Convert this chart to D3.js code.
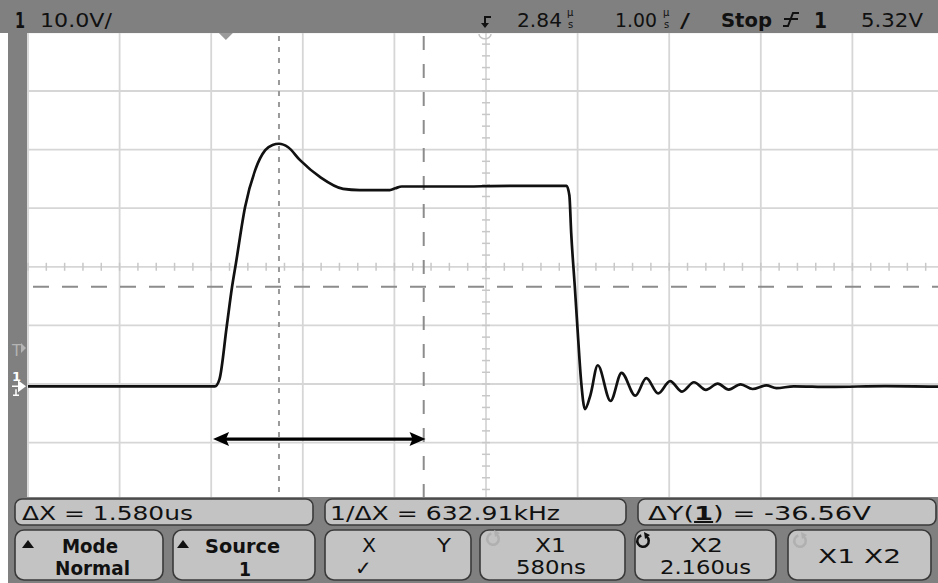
<!DOCTYPE html>
<html>
<head>
<meta charset="utf-8">
<script src="https://cdn.jsdelivr.net/npm/d3@7"></script>
<style>
  html, body { margin: 0; padding: 0; background: #fff; }
  svg { display: block; font-family: "DejaVu Sans", sans-serif; }
  .grid { stroke: #d6d6d6; stroke-width: 1.8; }
  .tick { stroke: #c8c8c8; stroke-width: 1.5; }
  .wave { fill: none; stroke: #111; stroke-width: 2.7; stroke-linejoin: round; }
</style>
</head>
<body>
<svg id="chart" width="938" height="583"></svg>
<script>
// scope settings
var timeCenter = 2.84;     // us, horizontal delay
var timePerDiv = 1.0;      // us/div
var voltsPerDiv = 10;      // V/div
var voltCenter = 20.4;     // V at screen centre (ground sits two divs lower)
var cursorX1 = 0.58;       // us
var cursorX2 = 2.16;       // us
var levelV = 17.0;         // dashed horizontal marker
var arrowFrom = -0.14, arrowTo = 2.18, arrowV = -9.0;

// captured waveform, channel 1
var waveT = [-2.16, -0.12, -0.07, 0.01, 0.067, 0.11, 0.21, 0.32, 0.43, 0.51, 0.58, 0.68, 0.81, 1.03, 1.28,
  1.46, 1.79, 1.85, 1.92, 2.5, 3.1, 3.72, 3.75, 3.77, 3.81, 3.84, 3.88, 3.92, 3.98, 4.06, 4.20, 4.32,
  4.47, 4.59, 4.72, 4.85, 4.98, 5.11, 5.24, 5.37, 5.49, 5.62, 5.75, 5.90, 6.01, 6.2, 6.6, 7.2, 7.84];
var waveV = [0, 0, 1.2, 10.3, 16.9, 21.0, 30.6, 36.9, 40.3, 41.2, 41.4, 40.8, 38.6, 35.7, 33.7,
  33.5, 33.5, 33.8, 34.1, 34.1, 34.2, 34.2, 32.6, 26.2, 16.9, 9.6, 0.6, -3.9, -1.5, 3.6, -2.5, 2.3,
  -1.6, 1.4, -1.2, 0.9, -0.9, 0.7, -0.6, 0.45, -0.55, 0.35, -0.45, 0.15, -0.3, 0, -0.1, 0.05, -0.05];

// text on the screen
var statusTexts = ["ΔX = 1.580us", "1/ΔX = 632.91kHz"];
var softTop = ["Mode", "Source", "X", "X1", "X2", "X1 X2"];
var softBottom = ["Normal", "1", "✓", "580ns", "2.160us", ""];

var svg = d3.select("#chart");
var gridLeft = 28, gridTop = 32.4, divW = 91.6, divH = 58.6;

var x = d3.scaleLinear()
  .domain([timeCenter - 5 * timePerDiv, timeCenter + 5 * timePerDiv])
  .range([gridLeft, gridLeft + 10 * divW]);
var y = d3.scaleLinear()
  .domain([voltCenter - 4 * voltsPerDiv, voltCenter + 4 * voltsPerDiv])
  .range([gridTop + 8 * divH, gridTop]);

svg.append("rect").attr("width", 938).attr("height", 583).attr("fill", "#fff");

svg.append("defs").append("clipPath").attr("id", "screen")
  .append("rect").attr("x", 27).attr("y", 33).attr("width", 911).attr("height", 464);

var g = svg.append("g").attr("clip-path", "url(#screen)");

// graticule
var xDivs = d3.range(0, 11).map(function (i) { return x.domain()[0] + i * timePerDiv; });
var yDivs = d3.range(0, 9).map(function (i) { return y.domain()[0] + i * voltsPerDiv; });
g.selectAll(".vgrid").data(xDivs).enter().append("line")
  .attr("class", "grid")
  .attr("x1", function (d) { return x(d); }).attr("x2", function (d) { return x(d); })
  .attr("y1", 33).attr("y2", 497);
g.selectAll(".hgrid").data(yDivs).enter().append("line")
  .attr("class", "grid")
  .attr("x1", 27).attr("x2", 938)
  .attr("y1", function (d) { return y(d); }).attr("y2", function (d) { return y(d); });

// minor ticks on the centre lines
var xMinor = d3.range(0, 51).map(function (i) { return x.domain()[0] + i * timePerDiv / 5; });
var yMinor = d3.range(0, 41).map(function (i) { return y.domain()[0] + i * voltsPerDiv / 5; });
g.selectAll(".xt").data(xMinor).enter().append("line")
  .attr("class", "tick")
  .attr("x1", function (d) { return x(d); }).attr("x2", function (d) { return x(d); })
  .attr("y1", y(voltCenter) - 4).attr("y2", y(voltCenter) + 4);
g.selectAll(".yt").data(yMinor).enter().append("line")
  .attr("class", "tick")
  .attr("y1", function (d) { return y(d); }).attr("y2", function (d) { return y(d); })
  .attr("x1", x(timeCenter) - 4).attr("x2", x(timeCenter) + 4);

// cursors
g.append("line")
  .attr("x1", x(cursorX1)).attr("x2", x(cursorX1)).attr("y1", 36).attr("y2", 497)
  .attr("stroke", "#9a9a9a").attr("stroke-width", 2).attr("stroke-dasharray", "5,6");
g.append("line")
  .attr("x1", x(cursorX2)).attr("x2", x(cursorX2)).attr("y1", 36).attr("y2", 497)
  .attr("stroke", "#8c8c8c").attr("stroke-width", 2).attr("stroke-dasharray", "14,14");
g.append("line")
  .attr("x1", 33).attr("x2", 938).attr("y1", y(levelV)).attr("y2", y(levelV))
  .attr("stroke", "#8c8c8c").attr("stroke-width", 2).attr("stroke-dasharray", "16,13");

// waveform
var wave = waveT.map(function (t, i) { return { t: t, v: waveV[i] }; });
var line = d3.line()
  .x(function (d) { return x(d.t); })
  .y(function (d) { return y(d.v); })
  .curve(d3.curveMonotoneX);
g.append("path").datum(wave).attr("class", "wave").attr("d", line);

// double arrow between the edge and cursor 2
var ay = y(arrowV), ax1 = x(arrowFrom), ax2 = x(arrowTo);
g.append("line").attr("x1", ax1 + 10).attr("x2", ax2 - 10).attr("y1", ay).attr("y2", ay)
  .attr("stroke", "#000").attr("stroke-width", 3.2);
g.append("path").attr("fill", "#000")
  .attr("d", "M" + ax1 + "," + ay + "l16,-7l-3,7l3,7z");
g.append("path").attr("fill", "#000")
  .attr("d", "M" + ax2 + "," + ay + "l-16,-7l3,7l-3,7z");

// time reference triangle
svg.append("path").attr("fill", "#9a9a9a")
  .attr("d", "M" + (x(0) - 7) + ",33l14,0l-7,7z");

// left strip
svg.append("rect").attr("x", 8).attr("y", 0).attr("width", 19).attr("height", 583).attr("fill", "#808080");
svg.append("text").attr("x", 12).attr("y", 356).attr("font-size", 15).attr("fill", "#b4b4b4").text("T");
svg.append("path").attr("fill", "#b4b4b4").attr("d", "M21,343l5,5l-5,5z");
svg.append("text").attr("x", 12).attr("y", 381).attr("font-size", 13).attr("font-weight", "bold").attr("fill", "#fff").text("1");
svg.append("path").attr("fill", "#fff").attr("d", "M18," + (y(0) - 6) + "l8,6l-8,6z");
svg.append("path").attr("stroke", "#fff").attr("stroke-width", 1.5).attr("fill", "none")
  .attr("d", "M12," + y(0) + "l8,0M16," + (y(0) + 3) + "l0,6M13," + (y(0) + 9) + "l6,0");

// top status bar
svg.append("rect").attr("width", 938).attr("height", 33).attr("fill", "#808080");
var topBar = svg.append("g").attr("fill", "#111");
function txt(parent, s, x0, x1, yb, size, bold) {
  return parent.append("text").attr("x", x0).attr("y", yb).attr("font-size", size)
    .attr("font-weight", bold ? "bold" : "normal")
    .attr("textLength", x1 - x0).attr("lengthAdjust", "spacingAndGlyphs").text(s);
}
txt(topBar, "1", 15, 25, 28, 22, true);
txt(topBar, "10.0V/", 40, 112, 27, 19, false);
txt(topBar, "2.84", 517, 562, 27, 19, false);
txt(topBar, "1.00", 615, 657, 27, 19, false);
txt(topBar, "/", 680, 690, 27, 19, false);
txt(topBar, "Stop", 721, 772, 27, 19, true);
txt(topBar, "1", 814, 827, 28, 22, true);
txt(topBar, "5.32V", 861, 923, 27, 19, false);
// stacked "µs" unit glyphs
[567, 663].forEach(function (ux) {
  var u = topBar.append("text").attr("x", ux).attr("y", 15.5).attr("font-size", 10);
  u.append("tspan").text("µ");
  u.append("tspan").attr("x", ux + 1).attr("dy", 12.5).text("s");
});
// trigger slope glyph
topBar.append("path").attr("fill", "none").attr("stroke", "#111").attr("stroke-width", 2)
  .attr("d", "M783,26l5,0l5,-13l6,0M784,19l14,0");
// trigger position marker
topBar.append("path").attr("fill", "none").attr("stroke", "#111").attr("stroke-width", 2)
  .attr("d", "M491,17l-6,0l0,8");
topBar.append("path").attr("d", "M481,23l4,5l4,-5z");
svg.append("path").attr("fill", "none").attr("stroke", "#c4c4c4").attr("stroke-width", 1.5)
  .attr("d", "M479,34a5,4 0 0 0 12,0");

// bottom panels
svg.append("rect").attr("x", 0).attr("y", 497).attr("width", 938).attr("height", 86).attr("fill", "#808080");
svg.append("rect").attr("x", 0).attr("y", 497).attr("width", 8).attr("height", 86).attr("fill", "#fff");

var statusBoxes = [[15, 313], [325, 626], [638, 936]];
var softBoxes = [[15, 163], [173, 315], [325, 471], [480, 625], [635, 776], [788, 931]];
var panel = svg.append("g");
panel.selectAll(".sbox").data(statusBoxes).enter().append("rect")
  .attr("x", function (d) { return d[0]; }).attr("y", 499)
  .attr("width", function (d) { return d[1] - d[0]; }).attr("height", 26)
  .attr("rx", 7).attr("fill", "#c3c3c3").attr("stroke", "#3a3a3a").attr("stroke-width", 1.6);
panel.selectAll(".kbox").data(softBoxes).enter().append("rect")
  .attr("x", function (d) { return d[0]; }).attr("y", 530)
  .attr("width", function (d) { return d[1] - d[0]; }).attr("height", 50)
  .attr("rx", 9).attr("fill", "#c3c3c3").attr("stroke", "#3a3a3a").attr("stroke-width", 1.6);

var pt = panel.append("g").attr("fill", "#111");
txt(pt, statusTexts[0], 22, 193, 520, 20, false);
txt(pt, statusTexts[1], 330, 560, 520, 20, false);
var dy = pt.append("text").attr("x", 648).attr("y", 520).attr("font-size", 20)
  .attr("textLength", 223).attr("lengthAdjust", "spacingAndGlyphs");
dy.append("tspan").text("ΔY(");
dy.append("tspan").attr("font-weight", "bold").attr("text-decoration", "underline").text("1");
dy.append("tspan").text(") = -36.56V");

// softkey labels
txt(pt, softTop[0], 62, 118, 553, 19, true);
txt(pt, softBottom[0], 55, 130, 575, 19, true);
txt(pt, softTop[1], 205, 280, 553, 19, true);
txt(pt, softBottom[1], 239, 251, 576, 20, true);
txt(pt, softTop[2], 362, 376, 552, 20, false);
txt(pt, "Y", 437, 451, 552, 20, false);
pt.append("text").attr("x", 355).attr("y", 575).attr("font-size", 20).text(softBottom[2]);
txt(pt, softTop[3], 535, 566, 552, 20, false);
txt(pt, softBottom[3], 516, 586, 574, 19, false);
txt(pt, softTop[4], 690, 723, 552, 20, false);
txt(pt, softBottom[4], 660, 751, 574, 19, false);
txt(pt, softTop[5], 818, 901, 563, 20, false);

pt.append("path").attr("d", "M22,548l6,-8l6,8z");
pt.append("path").attr("d", "M177,548l6,-8l6,8z");

// rotate icons on the cursor keys
var ring = d3.arc().innerRadius(4.5).outerRadius(7).startAngle(0.6).endAngle(2 * Math.PI - 0.3);
[[493, 539, "#b0b0b0"], [643, 541, "#111"], [800, 541, "#b0b0b0"]].forEach(function (c) {
  panel.append("path").attr("transform", "translate(" + c[0] + "," + c[1] + ")")
    .attr("d", ring()).attr("fill", c[2]);
  panel.append("path").attr("transform", "translate(" + c[0] + "," + c[1] + ")")
    .attr("d", "M1,-9l6,3l-5,4z").attr("fill", c[2]);
});
</script>
</body>
</html>
